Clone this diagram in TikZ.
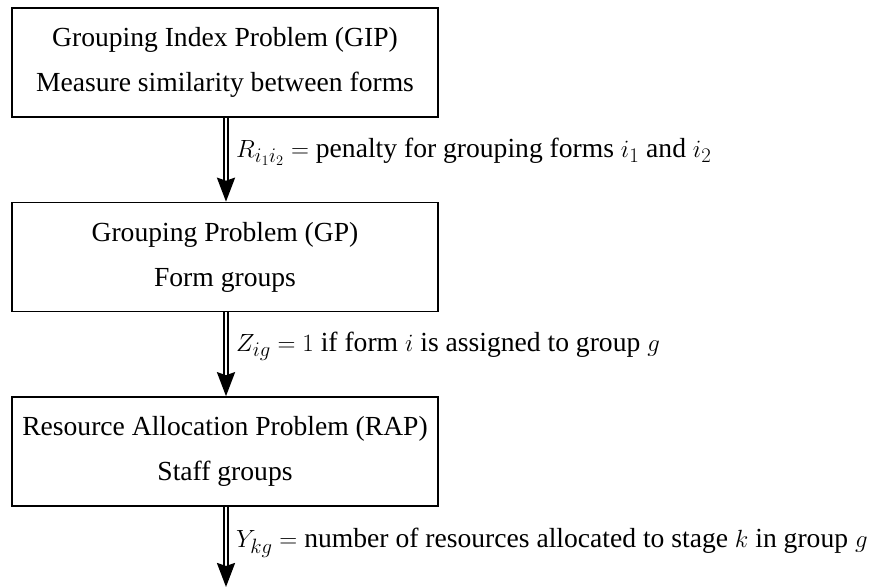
\documentclass[tikz,border=0pt]{standalone}
\usepackage{fontspec}
\setmainfont{Liberation Serif}
\usetikzlibrary{arrows.meta}
\begin{document}
\begin{tikzpicture}[x=1pt,y=-1pt,
  every node/.style={font=\fontsize{27.6}{45}\selectfont},
  probbox/.style={draw, line width=1.6pt, minimum width=426pt, minimum height=109pt, align=center, inner sep=0pt},
  flow/.style={double, double distance=2pt, line width=2.4pt, -{Stealth[length=24pt,width=18pt,inset=3pt]}},
  flowlabel/.style={anchor=west, inner sep=0pt}]
\useasboundingbox (0,0) rectangle (870,588);
\node[probbox] (gip) at (225,62.5) {Grouping Index Problem (GIP)\\Measure similarity between forms};
\node[probbox] (gp) at (225,257) {Grouping Problem (GP)\\Form groups};
\node[probbox] (rap) at (225,451.5) {Resource Allocation Problem (RAP)\\Staff groups};
\coordinate (end) at (226,587);
\draw[flow] (gip.south -| 226,0) -- (gp.north -| 226,0);
\draw[flow] (gp.south -| 226,0) -- (rap.north -| 226,0);
\draw[flow] (rap.south -| 226,0) -- (end);
\node[flowlabel] (l1) at (236,152) {$R_{i_1i_2} =$ penalty for grouping forms $i_1$ and $i_2$};
\node[flowlabel] (l2) at (236,346) {$Z_{ig} = 1$ if form $i$ is assigned to group $g$};
\node[flowlabel] (l3) at (236,543) {$Y_{kg} =$ number of resources allocated to stage $k$ in group $g$};
\end{tikzpicture}
\end{document}
